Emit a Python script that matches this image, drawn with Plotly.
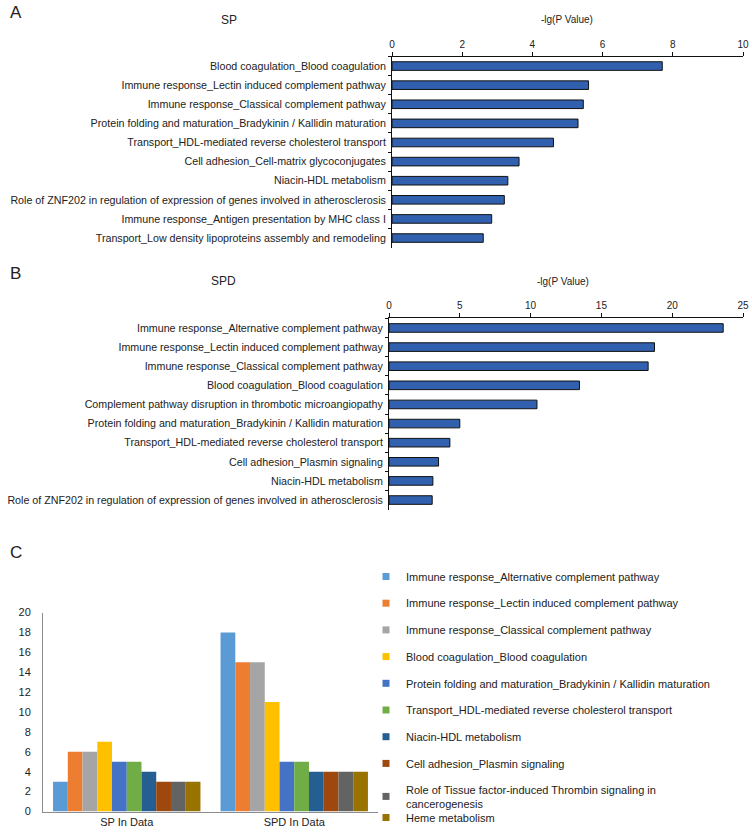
import plotly.graph_objects as go

W, H = 752, 839

# ---------------- data ----------------
sp_terms = [
    "Blood coagulation_Blood coagulation",
    "Immune response_Lectin induced complement pathway",
    "Immune response_Classical complement pathway",
    "Protein folding and maturation_Bradykinin / Kallidin maturation",
    "Transport_HDL-mediated reverse cholesterol transport",
    "Cell adhesion_Cell-matrix glycoconjugates",
    "Niacin-HDL metabolism",
    "Role of ZNF202 in regulation of expression of genes involved in atherosclerosis",
    "Immune response_Antigen presentation by MHC class I",
    "Transport_Low density lipoproteins assembly and remodeling",
]
sp_values = [7.7, 5.6, 5.45, 5.3, 4.6, 3.62, 3.3, 3.2, 2.84, 2.6]

spd_terms = [
    "Immune response_Alternative complement pathway",
    "Immune response_Lectin induced complement pathway",
    "Immune response_Classical complement pathway",
    "Blood coagulation_Blood coagulation",
    "Complement pathway disruption in thrombotic microangiopathy",
    "Protein folding and maturation_Bradykinin / Kallidin maturation",
    "Transport_HDL-mediated reverse cholesterol transport",
    "Cell adhesion_Plasmin signaling",
    "Niacin-HDL metabolism",
    "Role of ZNF202 in regulation of expression of genes involved in atherosclerosis",
]
spd_values = [23.6, 18.75, 18.3, 13.45, 10.45, 5.0, 4.3, 3.5, 3.1, 3.05]

c_categories = ["SP In Data", "SPD In Data"]
c_series = [
    "Immune response_Alternative complement pathway",
    "Immune response_Lectin induced complement pathway",
    "Immune response_Classical complement pathway",
    "Blood coagulation_Blood coagulation",
    "Protein folding and maturation_Bradykinin / Kallidin maturation",
    "Transport_HDL-mediated reverse cholesterol transport",
    "Niacin-HDL metabolism",
    "Cell adhesion_Plasmin signaling",
    "Role of Tissue factor-induced Thrombin signaling in<br>cancerogenesis",
    "Heme metabolism",
]
c_sp = [3, 6, 6, 7, 5, 5, 4, 3, 3, 3]
c_spd = [18, 15, 15, 11, 5, 5, 4, 4, 4, 4]
c_colors = ["#5B9BD5", "#ED7D31", "#A5A5A5", "#FFC000", "#4472C4",
            "#70AD47", "#255E91", "#9E480E", "#636363", "#997300"]

FONT = "Liberation Sans, Arial, sans-serif"
BAR_BLUE = "#3160AE"


def px_x(p):
    return p / W


def px_y(p):
    return 1 - p / H


fig = go.Figure()

# ---------------- Panel A ----------------
fig.add_trace(go.Bar(
    x=sp_values, y=sp_terms, orientation="h", xaxis="x", yaxis="y",
    marker=dict(color=BAR_BLUE, line=dict(color="#111111", width=1)),
    width=0.45, showlegend=False,
))
# ---------------- Panel B ----------------
fig.add_trace(go.Bar(
    x=spd_values, y=spd_terms, orientation="h", xaxis="x2", yaxis="y2",
    marker=dict(color=BAR_BLUE, line=dict(color="#111111", width=1)),
    width=0.45, showlegend=False,
))
# ---------------- Panel C ----------------
n_series = len(c_series)
for i, (name, a, b, col) in enumerate(zip(c_series, c_sp, c_spd, c_colors)):
    fig.add_trace(go.Bar(
        x=c_categories, y=[a, b], name=name, xaxis="x3", yaxis="y3",
        marker=dict(color=col, line=dict(width=0)),
        showlegend=False,
    ))
    fig.add_trace(go.Scatter(
        x=[None], y=[None], mode="markers", name=name, xaxis="x3", yaxis="y3",
        marker=dict(symbol="square", size=7, color=col),
        legendgroup=name, showlegend=True,
        legend="legend2" if i == n_series - 1 else "legend",
    ))

hax = dict(side="top", showline=True, linecolor="#111111", linewidth=1,
           ticks="outside", ticklen=4, tickcolor="#111111", showgrid=False,
           zeroline=False, tickfont=dict(size=10, color="#222222"),
           automargin=False)
vax = dict(type="category", autorange="reversed", showline=True,
           linecolor="#111111", linewidth=1, ticks="outside", ticklen=3,
           tickcolor="#111111", tickson="boundaries", showgrid=False,
           tickfont=dict(size=10.7, color="#222222"), ticklabelstandoff=3,
           automargin=False)

legend_common = dict(xanchor="left", yanchor="top",
                     font=dict(size=11, color="#222222"), tracegroupgap=7.7,
                     traceorder="grouped", bgcolor="rgba(0,0,0,0)", itemwidth=30)

fig.update_layout(
    width=W, height=H,
    margin=dict(l=0, r=0, t=0, b=0, autoexpand=False),
    paper_bgcolor="white", plot_bgcolor="white",
    font=dict(family=FONT, color="#222222"),
    barmode="group", bargap=0.12, bargroupgap=0,
    xaxis=dict(domain=[px_x(392), px_x(743)], range=[0, 10], dtick=2,
               anchor="y", **hax),
    yaxis=dict(domain=[px_y(247.6), px_y(56.5)], anchor="x", **vax),
    xaxis2=dict(domain=[px_x(389), px_x(743)], range=[0, 25], dtick=5,
                anchor="y2", **hax),
    yaxis2=dict(domain=[px_y(509.6), px_y(318.4)], anchor="x2", **vax),
    xaxis3=dict(domain=[px_x(43), px_x(378)], anchor="y3", showline=True,
                linecolor="#8C8C8C", linewidth=1, ticks="", showgrid=False,
                tickfont=dict(size=11, color="#222222"), automargin=False),
    yaxis3=dict(domain=[px_y(811.5), px_y(612.5)], anchor="x3", range=[0, 20],
                dtick=2, showline=True, linecolor="#8C8C8C", linewidth=1,
                ticks="", showgrid=False, zeroline=False,
                tickfont=dict(size=11, color="#222222"), ticklabelstandoff=9,
                automargin=False),
    legend=dict(x=px_x(366), y=px_y(562), **legend_common),
    legend2=dict(x=px_x(366), y=px_y(803), **legend_common),
)

ann = []
ann.append(dict(text="A", x=px_x(8), y=px_y(13), xanchor="left", yanchor="middle",
                font=dict(size=17, color="#222222")))
ann.append(dict(text="B", x=px_x(8), y=px_y(273), xanchor="left", yanchor="middle",
                font=dict(size=17, color="#222222")))
ann.append(dict(text="C", x=px_x(8), y=px_y(552), xanchor="left", yanchor="middle",
                font=dict(size=17, color="#222222")))
ann.append(dict(text="SP", x=px_x(229), y=px_y(20), xanchor="center", yanchor="middle",
                font=dict(size=12, color="#222222")))
ann.append(dict(text="SPD", x=px_x(223), y=px_y(281), xanchor="center", yanchor="middle",
                font=dict(size=12, color="#222222")))
ann.append(dict(text="-lg(P Value)", x=px_x(567), y=px_y(20), xanchor="center",
                yanchor="middle", font=dict(size=10, color="#222222")))
ann.append(dict(text="-lg(P Value)", x=px_x(563), y=px_y(281), xanchor="center",
                yanchor="middle", font=dict(size=10, color="#222222")))
for a in ann:
    a.update(xref="paper", yref="paper", showarrow=False)
fig.update_layout(annotations=ann)

fig.write_html(
    "out.html",
    config={"displayModeBar": False},
    post_script="document.body.style.margin='0';document.body.style.overflow='hidden';",
)
